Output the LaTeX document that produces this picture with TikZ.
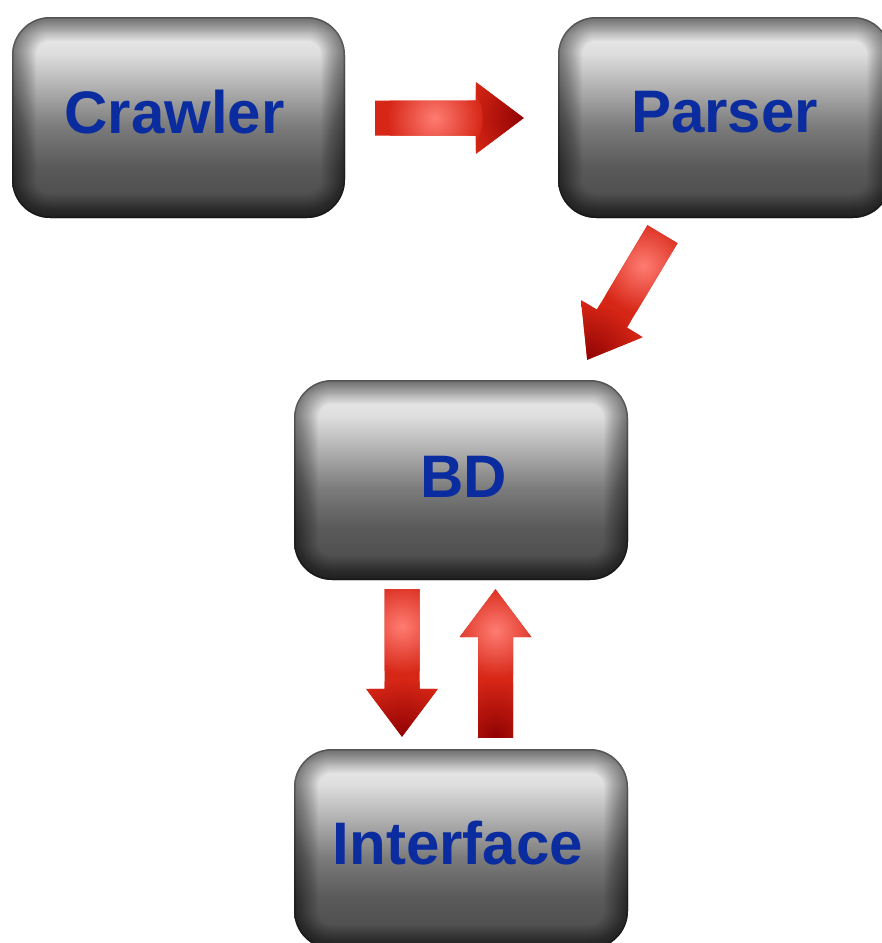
\documentclass[tikz,border=0pt]{standalone}
\usepackage{fontspec}
\setmainfont{Liberation Sans}
\usetikzlibrary{calc}
\definecolor{txtblue}{HTML}{0A2C9E}
\definecolor{gA}{HTML}{474747}
\definecolor{gB}{HTML}{5A5A5A}
\definecolor{gC}{HTML}{7C7C7C}
\definecolor{gD}{HTML}{AEAEAE}
\definecolor{gE}{HTML}{DEDEDE}
\definecolor{gF}{HTML}{E8E8E8}
\definecolor{gG}{HTML}{D4D4D4}
\definecolor{arrowred}{HTML}{D62616}
\definecolor{arrowlight}{HTML}{FF7C72}
\definecolor{arrowdark}{HTML}{900202}
\pgfdeclareverticalshading{glossy}{100bp}{color(0bp)=(gA); color(25bp)=(gA); color(38bp)=(gB); color(48bp)=(gC); color(57bp)=(gD); color(66bp)=(gE); color(71bp)=(gF); color(75bp)=(gG); color(100bp)=(gG)}
\tikzset{
  gbox/.style={rounded corners=38pt, shading=glossy, minimum width=334pt,
    minimum height=201pt, inner sep=0pt,
    path picture={
      \foreach \i in {1,...,24}{
        \draw[line width=2*\i pt, black, opacity=0.022, rounded corners=38pt]
          (path picture bounding box.south west) rectangle
          (path picture bounding box.north east);}
      \draw[line width=3pt, black, opacity=0.25, rounded corners=38pt]
          (path picture bounding box.south west) rectangle
          (path picture bounding box.north east);
    }},
  lbl/.style={font=\fontsize{60}{60}\selectfont\bfseries, text=txtblue, inner sep=0pt},
}
% #1 tail, #2 tip, #3 position of highlight, #4 position of dark spot (fractions tail->tip)
\newcommand\blockarrow[4]{%
  \coordinate (ba-h) at ($(#2)!48pt!(#1)$);
  \coordinate (ba-m) at ($(#1)!#3!(#2)$);
  \coordinate (ba-d) at ($(#1)!#4!(#2)$);
  \begin{scope}
    \path[clip] ($(#1)!17.5pt!90:(#2)$) -- ($(ba-h)!17.5pt!90:(#2)$)
      -- ($(ba-h)!36pt!90:(#2)$) -- (#2) -- ($(ba-h)!36pt!-90:(#2)$)
      -- ($(ba-h)!17.5pt!-90:(#2)$) -- ($(#1)!17.5pt!-90:(#2)$) -- cycle;
    \fill[arrowred] (ba-h) circle (200pt);
    \shade[inner color=arrowdark, outer color=arrowred] (ba-d) circle (58pt);
    \shade[inner color=arrowlight, outer color=arrowred] (ba-m) circle (48pt);
  \end{scope}
}
\begin{document}
\begin{tikzpicture}[x=1pt,y=-1pt]
  \useasboundingbox (0,0) rectangle (882,943);
  \clip (0,0) rectangle (882,943);
  \fill[white] (0,0) rectangle (882,943);

  \node[gbox, minimum width=333pt] (crawler) at (178.5,117.5) {};
  \node[gbox, minimum width=333pt] (parser) at (724.5,117.5) {};
  \node[gbox, minimum height=200pt] (bd) at (461,480) {};
  \node[gbox, minimum height=200pt] (iface) at (461,849) {};

  \node[lbl] (crawlerL) at ([xshift=-4pt,yshift=5pt]crawler.center) {Crawler};
  \node[lbl] (parserL) at ([yshift=5pt]parser.center) {Parser};
  \node[lbl] (bdL) at ([xshift=3pt,yshift=3pt]bd.center) {BD};
  \node[lbl] (ifaceL) at ([xshift=-3pt,yshift=6pt]iface.center) {Interface};

  \coordinate (a1t) at ($(crawler.east)+(30,0.5)$);
  \coordinate (a1h) at ($(parser.west)+(-34,0.5)$);
  \coordinate (a2t) at ($(parser.south)+(-62,16)$);
  \coordinate (a2h) at ($(bd.north east)+(-41,-20)$);
  \coordinate (a3t) at ($(bd.south)+(-59,9)$);
  \coordinate (a3h) at ($(iface.north)+(-59,-12)$);
  \coordinate (a4t) at ($(iface.north)+(34.5,-11)$);
  \coordinate (a4h) at ($(bd.south)+(34.5,9)$);

  \blockarrow{a1t}{a1h}{0.4}{1}
  \blockarrow{a2t}{a2h}{0.25}{1}
  \blockarrow{a3t}{a3h}{0.25}{1}
  \blockarrow{a4t}{a4h}{0.72}{0}
\end{tikzpicture}
\end{document}
